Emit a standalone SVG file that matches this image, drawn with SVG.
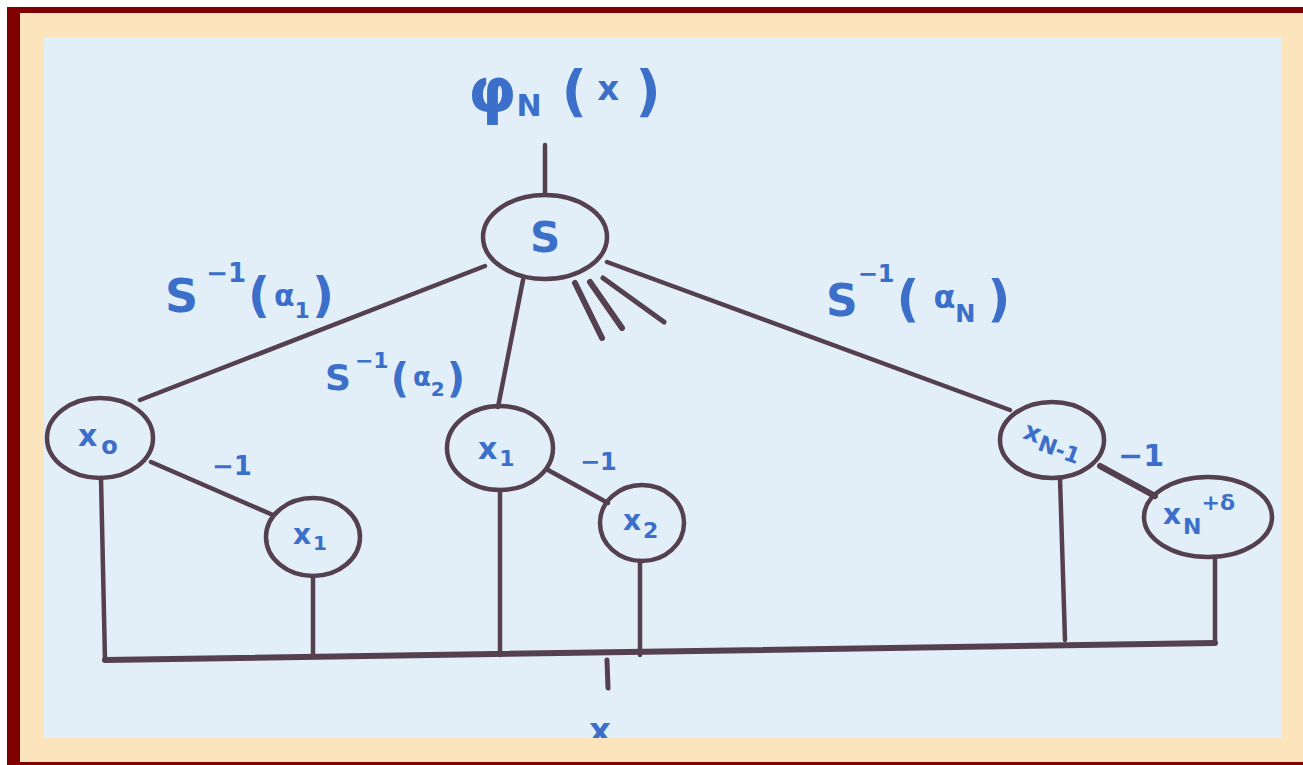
<svg xmlns="http://www.w3.org/2000/svg" width="1303" height="765" viewBox="0 0 1303 765">
<style>
.ln{stroke:#55404f;stroke-width:4.5;fill:none;stroke-linecap:round}
.nd{stroke:#55404f;stroke-width:4.5;fill:none}
.lb{fill:#3b6fca;font-family:"DejaVu Sans",sans-serif;font-weight:bold}
</style>
<rect x="0" y="0" width="1303" height="765" fill="#ffffff"/>
<rect x="44" y="37" width="1238" height="701" fill="#e2eff9"/>
<g id="connectors">
<line class="ln" x1="545" y1="145" x2="545" y2="194"/>
<line class="ln" x1="485" y1="266" x2="140" y2="400"/>
<line class="ln" x1="523" y1="280" x2="498" y2="407"/>
<line class="ln" x1="607" y1="262" x2="1010" y2="410"/>
<line class="ln" x1="575" y1="283" x2="602" y2="338" style="stroke-width:6"/>
<line class="ln" x1="590" y1="282" x2="622" y2="328" style="stroke-width:6"/>
<line class="ln" x1="603" y1="278" x2="664" y2="322" style="stroke-width:5"/>
<line class="ln" x1="151" y1="462" x2="273" y2="515"/>
<line class="ln" x1="548" y1="470" x2="608" y2="503"/>
<line class="ln" x1="1100" y1="466" x2="1155" y2="496" style="stroke-width:6"/>
<line class="ln" x1="101" y1="478" x2="105" y2="660"/>
<line class="ln" x1="313" y1="576" x2="313" y2="655"/>
<line class="ln" x1="500" y1="490" x2="500" y2="655"/>
<line class="ln" x1="640" y1="561" x2="640" y2="655"/>
<line class="ln" x1="1060" y1="478" x2="1065" y2="640"/>
<line class="ln" x1="1215" y1="557" x2="1215" y2="643"/>
<line class="ln" x1="105" y1="660" x2="1215" y2="643" style="stroke-width:6"/>
<line class="ln" x1="607" y1="660" x2="608" y2="688" style="stroke-width:5"/>
</g>
<g id="node-S"><ellipse class="nd" cx="545" cy="237" rx="62" ry="42"/><text class="lb" x="545" y="252" font-size="42" text-anchor="middle">S</text></g>
<g id="node-x0"><ellipse class="nd" cx="100" cy="438" rx="53" ry="40"/><text class="lb" x="78" y="446" font-size="30">x<tspan font-size="24" dx="4" dy="8">o</tspan></text></g>
<g id="node-x1a"><ellipse class="nd" cx="313" cy="537" rx="47" ry="39"/><text class="lb" x="293" y="544" font-size="28">x<tspan font-size="20" dx="2" dy="6">1</tspan></text></g>
<g id="node-x1"><ellipse class="nd" cx="500" cy="448" rx="53" ry="42"/><text class="lb" x="478" y="459" font-size="30">x<tspan font-size="22" dx="2" dy="7">1</tspan></text></g>
<g id="node-x2"><ellipse class="nd" cx="642" cy="523" rx="42" ry="38"/><text class="lb" x="623" y="530" font-size="28">x<tspan font-size="22" dx="2" dy="8">2</tspan></text></g>
<g id="node-xN1"><ellipse class="nd" cx="1052" cy="440" rx="52" ry="38"/><text class="lb" x="1020" y="448" font-size="26" transform="rotate(20 1050 448)">x<tspan font-size="22" dx="1" dy="6">N-1</tspan></text></g>
<g id="node-xN"><ellipse class="nd" cx="1208" cy="517" rx="64" ry="40"/><text class="lb" x="1163" y="524" font-size="28">x<tspan font-size="22" dx="2" dy="10">N</tspan><tspan font-size="22" dx="0" dy="-24">+δ</tspan></text></g>
<g id="labels">
<text class="lb" x="468" y="112" font-size="62">φ<tspan font-size="30" dx="0" dy="4">N</tspan><tspan font-size="56" dx="20" dy="-6">(</tspan><tspan font-size="34" dx="10" dy="-10">x</tspan><tspan font-size="56" dx="16" dy="10">)</tspan></text>
<text class="lb" x="165" y="312" font-size="46">S<tspan font-size="26" dx="8" dy="-30">−1</tspan><tspan font-size="48" dx="2" dy="30">(</tspan><tspan font-size="30" dx="4" dy="-6">α</tspan><tspan font-size="22" dy="12">1</tspan><tspan font-size="48" dx="2" dy="-6">)</tspan></text>
<text class="lb" x="325" y="390" font-size="36">S<tspan font-size="22" dx="4" dy="-22">−1</tspan><tspan font-size="40" dx="2" dy="24">(</tspan><tspan font-size="26" dx="4" dy="-6">α</tspan><tspan font-size="20" dy="10">2</tspan><tspan font-size="40" dx="2" dy="-4">)</tspan></text>
<text class="lb" x="826" y="316" font-size="44">S<tspan font-size="24" dx="0" dy="-34">−1</tspan><tspan font-size="50" dx="2" dy="34">(</tspan><tspan font-size="32" dx="14" dy="-8">α</tspan><tspan font-size="24" dy="14">N</tspan><tspan font-size="50" dx="12" dy="-6">)</tspan></text>
<text class="lb" x="212" y="475" font-size="26">−1</text>
<text class="lb" x="580" y="470" font-size="24">−1</text>
<text class="lb" x="1118" y="466" font-size="30">−1</text>
<text class="lb" x="600" y="742" font-size="34" text-anchor="middle">x</text>
</g>
<path fill="#fce4bc" fill-rule="evenodd" d="M20 13H1303V762H20Z M44 37V738H1282V37Z"/>
<path fill="#800000" fill-rule="evenodd" d="M7 7H1303V765H7Z M20 13V762H1303V13Z"/>
</svg>
